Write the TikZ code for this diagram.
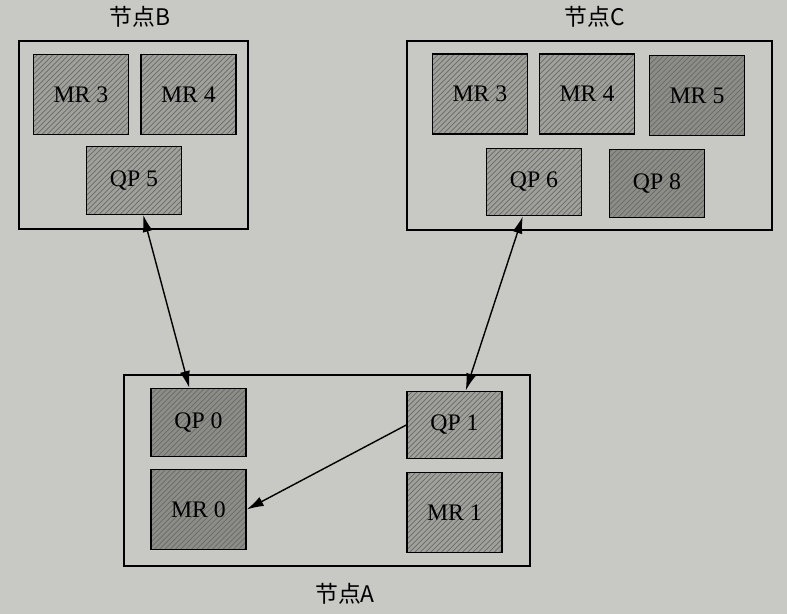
\documentclass[tikz,border=0pt]{standalone}
\usepackage{fontspec}
\setmainfont{Liberation Serif}
\newfontfamily\cjk{Noto Sans CJK SC}
\usetikzlibrary{patterns,arrows.meta}
\definecolor{paper}{RGB}{200,200,196}
\definecolor{boxgray}{RGB}{160,160,156}
\definecolor{darkgray}{RGB}{140,140,136}
\definecolor{hatch}{RGB}{105,105,102}
\begin{document}
\begin{tikzpicture}[
    >={Latex[length=3.4mm,width=2mm]},
    host/.style={rectangle, draw, line width=1.1pt, inner sep=0pt},
    mr/.style={rectangle, draw, line width=0.8pt, minimum width=1.9cm, minimum height=1.6cm,
        preaction={fill=boxgray}, pattern=north east lines, pattern color=hatch,
        font=\fontsize{13.5}{15}\selectfont},
    qp/.style={mr, minimum height=1.35cm},
    dark/.style={preaction={fill=darkgray}},
    arrow/.style={->, line width=0.8pt},
    doublearrow/.style={<->, line width=0.8pt},
    title/.style={font=\cjk\fontsize{13}{15}\selectfont}
]

% Paper background
\fill[paper] (0,0) rectangle (15.74,12.28);

% Host boxes
\node[host, minimum width=4.58cm, minimum height=3.76cm] (hostB) at (2.67,9.58) {};
\node[host, minimum width=7.30cm, minimum height=3.78cm] (hostC) at (11.79,9.57) {};
\node[host, minimum width=8.12cm, minimum height=3.82cm] (hostA) at (6.54,2.87) {};

% Host titles
\node[title] (titleB) at (2.80,11.94) {节点B};
\node[title] (titleC) at (11.90,11.94) {节点C};
\node[title] (titleA) at (6.90,0.40) {节点A};

% Node B
\node[mr] (mr3b) at (1.62,10.39) {MR 3};
\node[mr] (mr4b) at (3.77,10.39) {MR 4};
\node[qp] (qp5) at (2.68,8.67) {QP 5};

% Node C
\node[mr] (mr3c) at (9.60,10.40) {MR 3};
\node[mr] (mr4c) at (11.74,10.40) {MR 4};
\node[mr, dark] (mr5) at (13.94,10.37) {MR 5};
\node[qp] (qp6) at (10.68,8.64) {QP 6};
\node[qp, dark] (qp8) at (13.14,8.61) {QP 8};

% Node A
\node[qp, dark] (qp0) at (3.97,3.83) {QP 0};
\node[mr, dark] (mr0) at (3.97,2.09) {MR 0};
\node[qp] (qp1) at (9.09,3.78) {QP 1};
\node[mr] (mr1) at (9.09,2.03) {MR 1};

% Connections between hosts
\draw[doublearrow] (qp5) -- (qp0);
\draw[doublearrow] (qp6) -- (qp1);

% Local access
\draw[arrow] (qp1.west) -- (mr0.east);

\end{tikzpicture}
\end{document}
